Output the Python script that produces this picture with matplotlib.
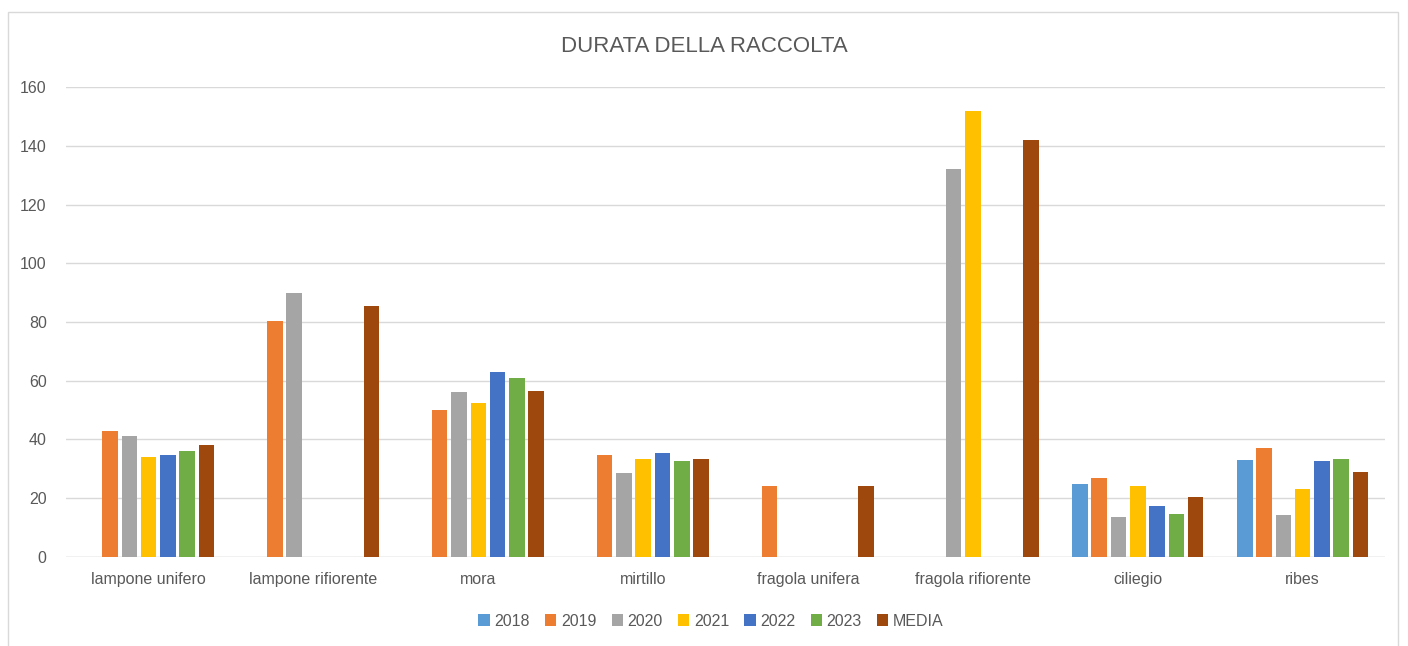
import numpy as np
import matplotlib
matplotlib.use("Agg")
import matplotlib.pyplot as plt
from matplotlib.patches import Rectangle

# values (days); nan = no bar
categories = ["lampone unifero", "lampone rifiorente", "mora", "mirtillo",
              "fragola unifera", "fragola rifiorente", "ciliegio", "ribes"]
nan = np.nan
s2018 = [nan, nan, nan, nan, nan, nan, 25, 33]
s2019 = [43, 80.5, 50, 34.7, 24, nan, 27, 37]
s2020 = [41.3, 90, 56, 28.5, nan, 132, 13.5, 14.3]
s2021 = [34, nan, 52.5, 33.5, nan, 152, 24, 23.2]
s2022 = [34.7, nan, 63, 35.5, nan, nan, 17.5, 32.7]
s2023 = [36, nan, 61, 32.8, nan, nan, 14.7, 33.2]
media = [38, 85.3, 56.5, 33.3, 24, 142, 20.3, 29]

series_names = ["2018", "2019", "2020", "2021", "2022", "2023", "MEDIA"]
series = [s2018, s2019, s2020, s2021, s2022, s2023, media]
colors = ["#5B9BD5", "#ED7D31", "#A5A5A5", "#FFC000", "#4472C4", "#70AD47", "#9E480E"]

TXT = "#595959"
plt.rcParams["font.family"] = ["Liberation Sans", "DejaVu Sans"]

fig = plt.figure(figsize=(14.08, 6.46), dpi=100)
ax = fig.add_axes([0.0470, 0.1378, 0.9367, 0.7275])

# outer chart border like the Excel chart area
fig.patches.append(Rectangle((8 / 1408, -0.01), 1390 / 1408, 1 - 12 / 646 + 0.01,
                             transform=fig.transFigure, fill=False,
                             edgecolor="#D9D9D9", linewidth=1))

x = np.arange(len(categories))
n = len(series)
slot = 0.117
width = 0.094
for i, (name, vals, c) in enumerate(zip(series_names, series, colors)):
    off = (i - (n - 1) / 2) * slot
    ax.bar(x + off, vals, width=width, color=c, label=name, zorder=3)

ax.set_xlim(-0.5, len(categories) - 0.5)
ax.set_ylim(0, 160)
ax.set_yticks(range(0, 161, 20))
ax.yaxis.grid(True, color="#D9D9D9", linewidth=1, zorder=0)
for sp in ax.spines.values():
    sp.set_visible(False)
ax.axhline(0, color="#D9D9D9", linewidth=1, zorder=1)
ax.tick_params(axis="both", length=0, colors=TXT, labelsize=11.5)
ax.tick_params(axis="y", pad=14)
ax.tick_params(axis="x", pad=11)
ax.set_xticks(x)
ax.set_xticklabels(categories)

fig.text(0.5, 1 - 46 / 646, "DURATA DELLA RACCOLTA", ha="center", va="center",
         fontsize=16, color=TXT)

fig.legend(loc="center", bbox_to_anchor=(0.505, 1 - 621 / 646), ncol=7,
           frameon=False, fontsize=11.5, handlelength=0.7, handleheight=0.7,
           handletextpad=0.3, columnspacing=0.95, labelcolor=TXT)

fig.savefig("out.png", dpi=100)
